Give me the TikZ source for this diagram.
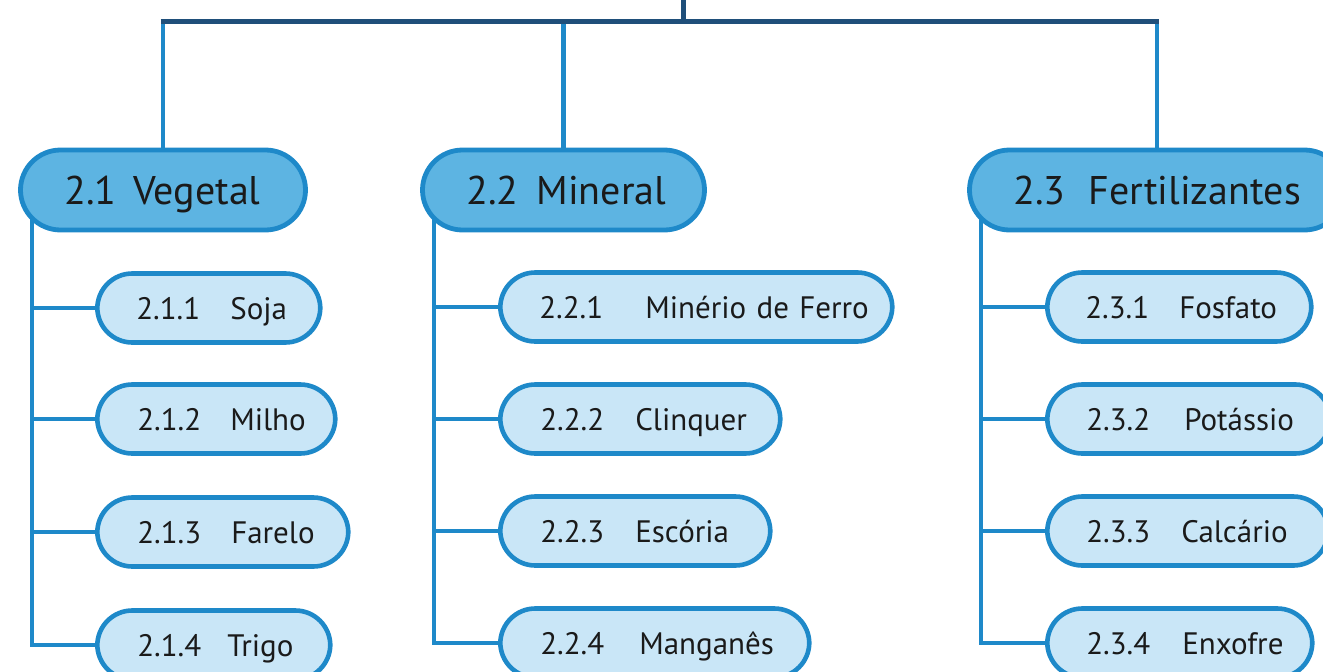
\documentclass[tikz,border=0pt]{standalone}
\usepackage{fontspec}
\setmainfont{PT Sans}
\usetikzlibrary{backgrounds}
\definecolor{lineblue}{RGB}{30,137,201}
\definecolor{headfill}{RGB}{93,180,226}
\definecolor{kidfill}{RGB}{201,230,247}
\definecolor{darkbar}{RGB}{31,79,122}
\definecolor{ink}{RGB}{26,26,26}
\tikzset{
  conn/.style={draw=lineblue, line width=4.8pt},
  bar/.style={draw=darkbar, line width=5pt},
  head/.style={draw=lineblue, fill=headfill, line width=4.8pt, rounded corners=40pt,
    minimum height=80pt, inner xsep=0pt, inner ysep=0pt, align=left, text=ink,
    font=\fontsize{40pt}{40pt}\selectfont, text height=28pt, text depth=0pt},
  kid/.style={draw=lineblue, fill=kidfill, line width=4.6pt, rounded corners=35pt,
    minimum height=69pt, inner xsep=0pt, inner ysep=0pt, align=left, text=ink, anchor=west,
    font=\fontsize{31pt}{31pt}\selectfont, text height=22pt, text depth=0pt},
}
\newcommand{\kidtext}[4]{\hspace*{#1pt}\makebox[#2pt][l]{#3}#4}
\begin{document}
\begin{tikzpicture}[x=1pt,y=-1pt]
\useasboundingbox (0,0) rectangle (1323,672);
% headers
\node[head, text width=285pt] (h1) at (163,190) {\kidtext{44}{69}{2.1}{Vegetal}};
\node[head, text width=282pt] (h2) at (563.5,190) {\kidtext{44}{70}{2.2}{Mineral}};
\node[head, text width=375pt] (h3) at (1157,190) {\kidtext{44}{75}{2.3}{Fertilizantes}};
% column 1
\node[kid, text width=223pt] (c11) at (95,308) {\kidtext{39}{94}{2.1.1}{Soja}};
\node[kid, text width=238pt] (c12) at (95,419) {\kidtext{40}{93}{2.1.2}{Milho}};
\node[kid, text width=251pt] (c13) at (95,532) {\kidtext{40}{94}{2.1.3}{Farelo}};
\node[kid, text width=233pt] (c14) at (95,645) {\kidtext{40}{90}{2.1.4}{Trigo}};
% column 2
\node[kid, text width=392pt] (c21) at (498,307) {\kidtext{39}{106}{2.2.1}{Minério de Ferro}};
\node[kid, text width=280pt] (c22) at (498,419) {\kidtext{40}{95}{2.2.2}{Clinquer}};
\node[kid, text width=270pt] (c23) at (498,531) {\kidtext{40}{95}{2.2.3}{Escória}};
\node[kid, text width=309pt] (c24) at (498,643) {\kidtext{40}{99}{2.2.4}{Manganês}};
% column 3
\node[kid, text width=264pt] (c31) at (1045,307) {\kidtext{38}{94}{2.3.1}{Fosfato}};
\node[kid, text width=283pt] (c32) at (1045,419) {\kidtext{39}{98}{2.3.2}{Potássio}};
\node[kid, text width=281pt] (c33) at (1045,531) {\kidtext{39}{95}{2.3.3}{Calcário}};
\node[kid, text width=265pt] (c34) at (1045,643) {\kidtext{39}{96}{2.3.4}{Enxofre}};
% connectors
\coordinate (top) at (683,0);
\coordinate (barl) at (0,21);
\coordinate (s1) at (32,0);
\coordinate (s2) at (434,0);
\coordinate (s3) at (981,0);
\begin{scope}[on background layer]
  \draw[conn] (h1.north |- barl) -- (h1.north);
  \draw[conn] (h2.north |- barl) -- (h2.north);
  \draw[conn] (h3.north |- barl) -- (h3.north);
  \draw[bar] ([xshift=-2.4pt]h1.north |- barl) -- ([xshift=2.4pt]h3.north |- barl);
  \draw[bar] (top) -- (top |- barl);
  \draw[conn] (h1.center -| s1) |- (c14.west);
  \draw[conn] (c11.west -| s1) -- (c11.west);
  \draw[conn] (c12.west -| s1) -- (c12.west);
  \draw[conn] (c13.west -| s1) -- (c13.west);
  \draw[conn] (h2.center -| s2) |- (c24.west);
  \draw[conn] (c21.west -| s2) -- (c21.west);
  \draw[conn] (c22.west -| s2) -- (c22.west);
  \draw[conn] (c23.west -| s2) -- (c23.west);
  \draw[conn] (h3.center -| s3) |- (c34.west);
  \draw[conn] (c31.west -| s3) -- (c31.west);
  \draw[conn] (c32.west -| s3) -- (c32.west);
  \draw[conn] (c33.west -| s3) -- (c33.west);
\end{scope}
\end{tikzpicture}
\end{document}
